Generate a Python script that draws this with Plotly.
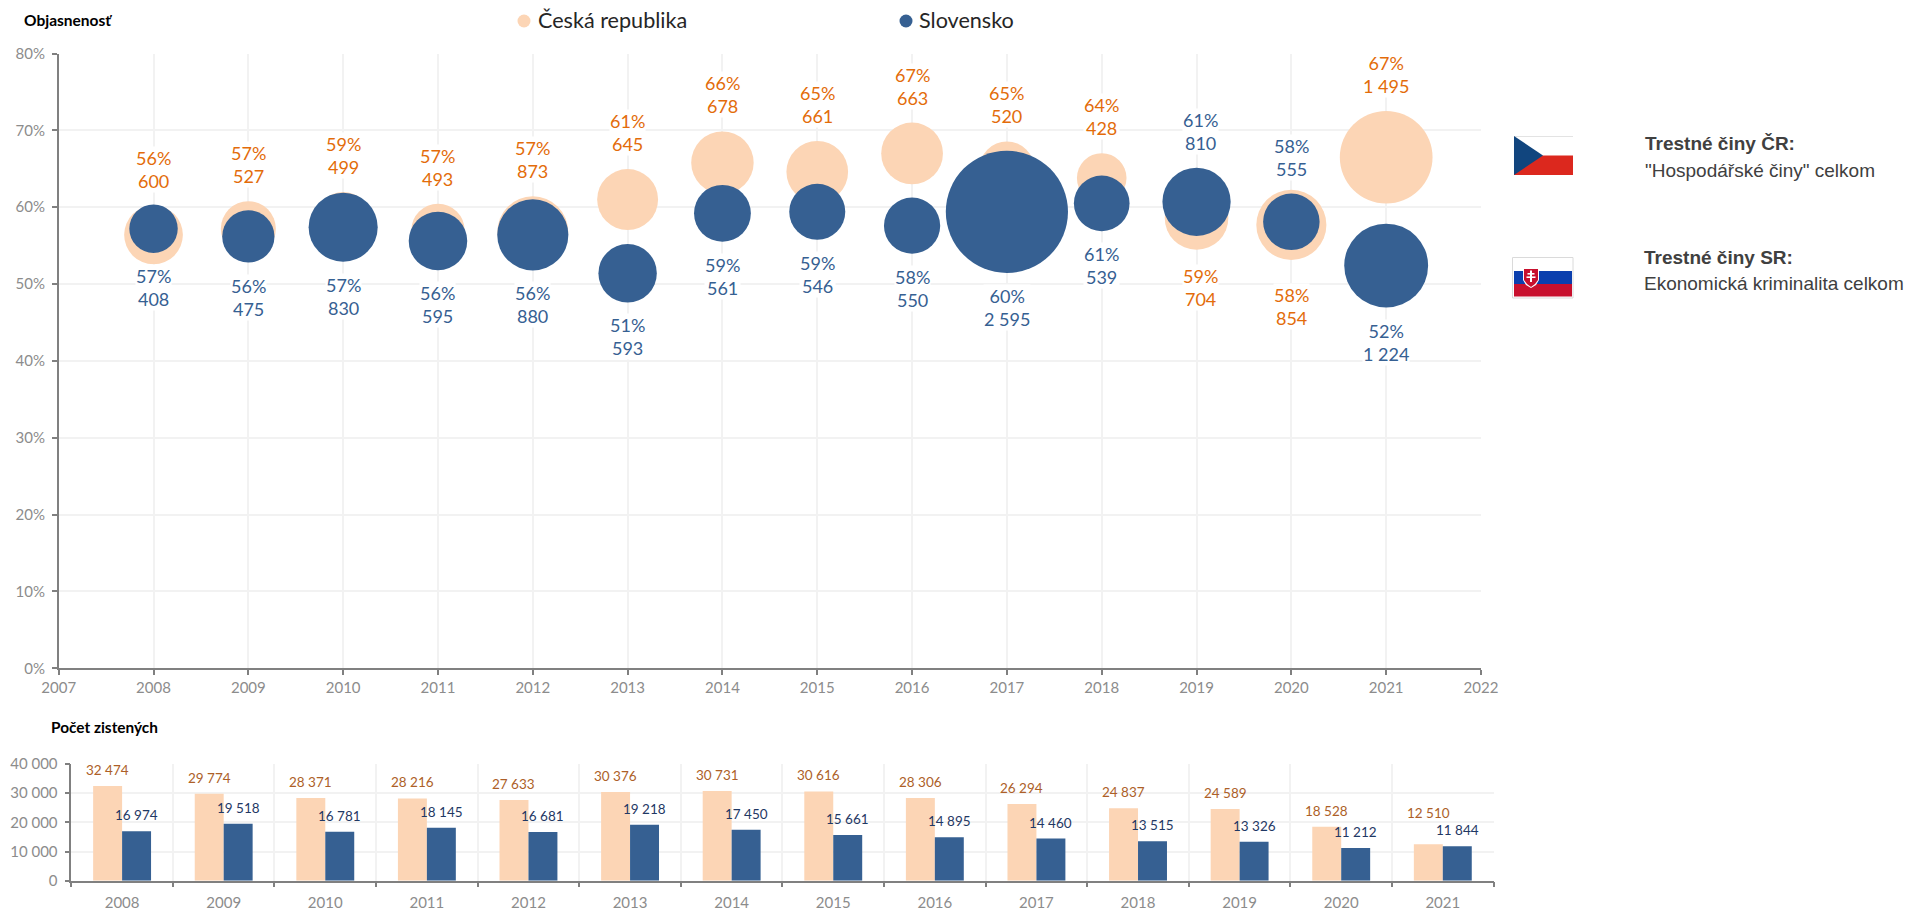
import plotly.graph_objects as go

W, H = 1906, 912

years = [2008, 2009, 2010, 2011, 2012, 2013, 2014, 2015, 2016, 2017, 2018, 2019, 2020, 2021]

cz_rate = [56.4, 57.2, 58.5, 57.0, 56.8, 61.0, 65.8, 64.6, 67.0, 65.0, 63.8, 58.6, 57.7, 66.5]
sk_rate = [57.2, 56.2, 57.4, 55.6, 56.4, 51.4, 59.2, 59.4, 57.6, 59.4, 60.5, 60.7, 58.1, 52.4]
cz_rate_lbl = [56, 57, 59, 57, 57, 61, 66, 65, 67, 65, 64, 59, 58, 67]
sk_rate_lbl = [57, 56, 57, 56, 56, 51, 59, 59, 58, 60, 61, 61, 58, 52]
cz_cleared = [600, 527, 499, 493, 873, 645, 678, 661, 663, 520, 428, 704, 854, 1495]
sk_cleared = [408, 475, 830, 595, 880, 593, 561, 546, 550, 2595, 539, 810, 555, 1224]
cz_found = [32474, 29774, 28371, 28216, 27633, 30376, 30731, 30616, 28306, 26294, 24837, 24589, 18528, 12510]
sk_found = [16974, 19518, 16781, 18145, 16681, 19218, 17450, 15661, 14895, 14460, 13515, 13326, 11212, 11844]

CZ_FILL, SK_FILL = "#FCD5B5", "#366092"
CZ_TXT, SK_TXT = "#E36C0A", "#366092"
CZ_BAR_TXT, SK_BAR_TXT = "#AD5F28", "#1F3864"
GRID, AXIS, TICK = "#F2F2F2", "#808080", "#8C8C8C"
FONT = "Lato"
K = 5.75                 # squared bubble diameter (px^2) per case
SIZEREF = 2 / K


def fmt(n):
    return f"{n:,}".replace(",", " ")


def px(x):
    return x / W


def py(y):
    return 1 - y / H


fig = go.Figure()

for name, rate, cases, color in [("Česká republika", cz_rate, cz_cleared, CZ_FILL),
                                 ("Slovensko", sk_rate, sk_cleared, SK_FILL)]:
    fig.add_trace(go.Scatter(x=years, y=rate, mode="markers", name=name, showlegend=False,
                             marker=dict(size=cases, sizemode="area", sizeref=SIZEREF,
                                         color=color, opacity=1, line=dict(width=0)),
                             xaxis="x", yaxis="y", hoverinfo="x+y+name"))

bar_x = [str(y) for y in years]
for name, vals, color in [("Česká republika", cz_found, CZ_FILL),
                          ("Slovensko", sk_found, SK_FILL)]:
    fig.add_trace(go.Bar(x=bar_x, y=vals, name=name, showlegend=False, marker=dict(color=color, line=dict(width=0)),
                         xaxis="x2", yaxis="y2"))

annotations = []
PAD_ABOVE, PAD_BELOW = 13, 11
FLIPPED = {2019, 2020}          # years where Czech labels sit below and Slovak above
EXTRA_PAD = {("cz", 2020): 12, ("cz", 2019): 3}
XSHIFT = {2019: 4}


def bubble_label(key, year, rate, lbl, cases, color, above):
    r = (cases * K) ** 0.5 / 2
    pad = (PAD_ABOVE if above else PAD_BELOW) + EXTRA_PAD.get((key, year), 0)
    annotations.append(dict(
        x=year, y=rate, xref="x", yref="y", showarrow=False,
        text=f"{lbl}%<br>{fmt(cases)}",
        font=dict(family=FONT, size=18, color=color),
        bgcolor="#FFFFFF", borderpad=0, align="center",
        xanchor="center", yanchor="bottom" if above else "top",
        xshift=XSHIFT.get(year, 0),
        yshift=(r + pad) if above else -(r + pad)))


for i, y in enumerate(years):
    flip = y in FLIPPED
    bubble_label("cz", y, cz_rate[i], cz_rate_lbl[i], cz_cleared[i], CZ_TXT, not flip)
    bubble_label("sk", y, sk_rate[i], sk_rate_lbl[i], sk_cleared[i], SK_TXT, flip)

BAR_HALF = 14.5
BAR_LIFT = 16
BAR_EXTRA = {("cz", 2021): 15}
for key, vals, color, sign in [("cz", cz_found, CZ_BAR_TXT, -1), ("sk", sk_found, SK_BAR_TXT, 1)]:
    for idx, (yr, v) in enumerate(zip(years, vals)):
        annotations.append(dict(
            x=idx, y=v, xref="x2", yref="y2", showarrow=False, text=fmt(v),
            font=dict(family=FONT, size=13.5, color=color),
            xanchor="center", yanchor="middle", borderpad=0,
            xshift=sign * BAR_HALF, yshift=BAR_LIFT + BAR_EXTRA.get((key, yr), 0)))


def page_text(x, y, text, size, color, family=FONT, anchor="left"):
    annotations.append(dict(x=px(x), y=py(y), xref="paper", yref="paper", showarrow=False,
                            text=text, xanchor=anchor, yanchor="middle", align="left", borderpad=0,
                            font=dict(family=family, size=size, color=color)))


page_text(23, 20.5, "<b>Objasnenosť</b>", 15.5, "#000000")
page_text(50, 726.5, "<b>Počet zistených</b>", 15.4, "#000000")
page_text(537, 20, "Česká republika", 21.6, "#262626")
page_text(918, 20, "Slovensko", 21.6, "#262626")
ARIAL = "Liberation Sans"
page_text(1644, 143.5, "<b>Trestné činy ČR:</b>", 19, "#404040", ARIAL)
page_text(1644, 170.5, "\"Hospodářské činy\" celkom", 19, "#404040", ARIAL)
page_text(1643, 257.5, "<b>Trestné činy SR:</b>", 19, "#404040", ARIAL)
page_text(1643, 283.5, "Ekonomická kriminalita celkom", 19, "#404040", ARIAL)


def rect(x0, y0, x1, y1, color, line=None):
    return dict(type="rect", xref="paper", yref="paper", x0=px(x0), x1=px(x1), y0=py(y0), y1=py(y1),
                fillcolor=color, line=dict(width=1 if line else 0, color=line or color), layer="above")


def poly(points, color):
    d = "M " + " L ".join(f"{px(a):.5f},{py(b):.5f}" for a, b in points) + " Z"
    return dict(type="path", xref="paper", yref="paper", path=d, fillcolor=color, line=dict(width=0), layer="above")


shapes = [
    dict(type="circle", xref="paper", yref="paper", x0=px(517.5), x1=px(530.5), y0=py(27.5), y1=py(14.5),
         fillcolor=CZ_FILL, line=dict(width=0)),
    dict(type="circle", xref="paper", yref="paper", x0=px(899.5), x1=px(912.5), y0=py(27.5), y1=py(14.5),
         fillcolor=SK_FILL, line=dict(width=0)),
    # Czech flag
    rect(1514, 136, 1573, 155.5, "#FFFFFF"),
    rect(1514, 155.5, 1573, 175, "#DC281E"),
    rect(1514, 136, 1573, 136.6, "#C8C8C8"),
    poly([(1514, 136), (1543, 155.5), (1514, 175)], "#11457E"),
    # Slovak flag
    rect(1512.5, 257.5, 1573, 298, "#FFFFFF", "#DADADA"),
    rect(1514, 271, 1572, 284, "#0B3FAE"),
    rect(1514, 284, 1572, 296.5, "#C8102E"),
    poly([(1523, 268), (1539, 268), (1539, 280), (1536, 285), (1531, 288), (1526, 285), (1523, 280)], "#FFFFFF"),
    poly([(1524, 269), (1538, 269), (1538, 280), (1535, 284), (1531, 287), (1527, 284), (1524, 280)], "#C8102E"),
    rect(1530, 270.5, 1532, 282, "#FFFFFF"),
    rect(1527.5, 273, 1534.5, 274.6, "#FFFFFF"),
    rect(1526.5, 276.4, 1535.5, 278, "#FFFFFF"),
]

tf = dict(family=FONT, size=15, color=TICK)
axis_common = dict(showline=True, linecolor=AXIS, linewidth=1.5, ticks="outside", tickcolor=AXIS,
                   ticklen=5, tickwidth=1.5, showgrid=True, gridcolor=GRID, gridwidth=1.5,
                   zeroline=False, tickfont=tf)

fig.update_layout(
    width=W, height=H, autosize=False,
    margin=dict(l=0, r=0, t=0, b=0, pad=0, autoexpand=False),
    paper_bgcolor="#FFFFFF", plot_bgcolor="#FFFFFF",
    separators=", ",
    showlegend=False,
    barmode="group", bargap=0.43, bargroupgap=0,
    font=dict(family=FONT),
    annotations=annotations, shapes=shapes,
    xaxis=dict(domain=[px(58.7), px(1481)], range=[2007, 2022], dtick=1, tick0=2007,
               anchor="y", **axis_common),
    yaxis=dict(domain=[py(668.3), py(53.5)], range=[0, 80], dtick=10, ticksuffix="%",
               anchor="x", ticklabelstandoff=4, **axis_common),
    xaxis2=dict(domain=[px(71.3), px(1493.6)], type="category", tickson="boundaries",
                range=[-0.5, 13.5], tickangle=0,
                anchor="y2", ticklabelstandoff=8, **axis_common),
    yaxis2=dict(domain=[py(880.7), py(764)], range=[0, 40000], dtick=10000, tickformat=",d",
                anchor="x2", ticklabelstandoff=4, **axis_common),
)

fig.write_html("out.html", config=dict(displayModeBar=False),
               post_script="document.body.style.margin='0';")
